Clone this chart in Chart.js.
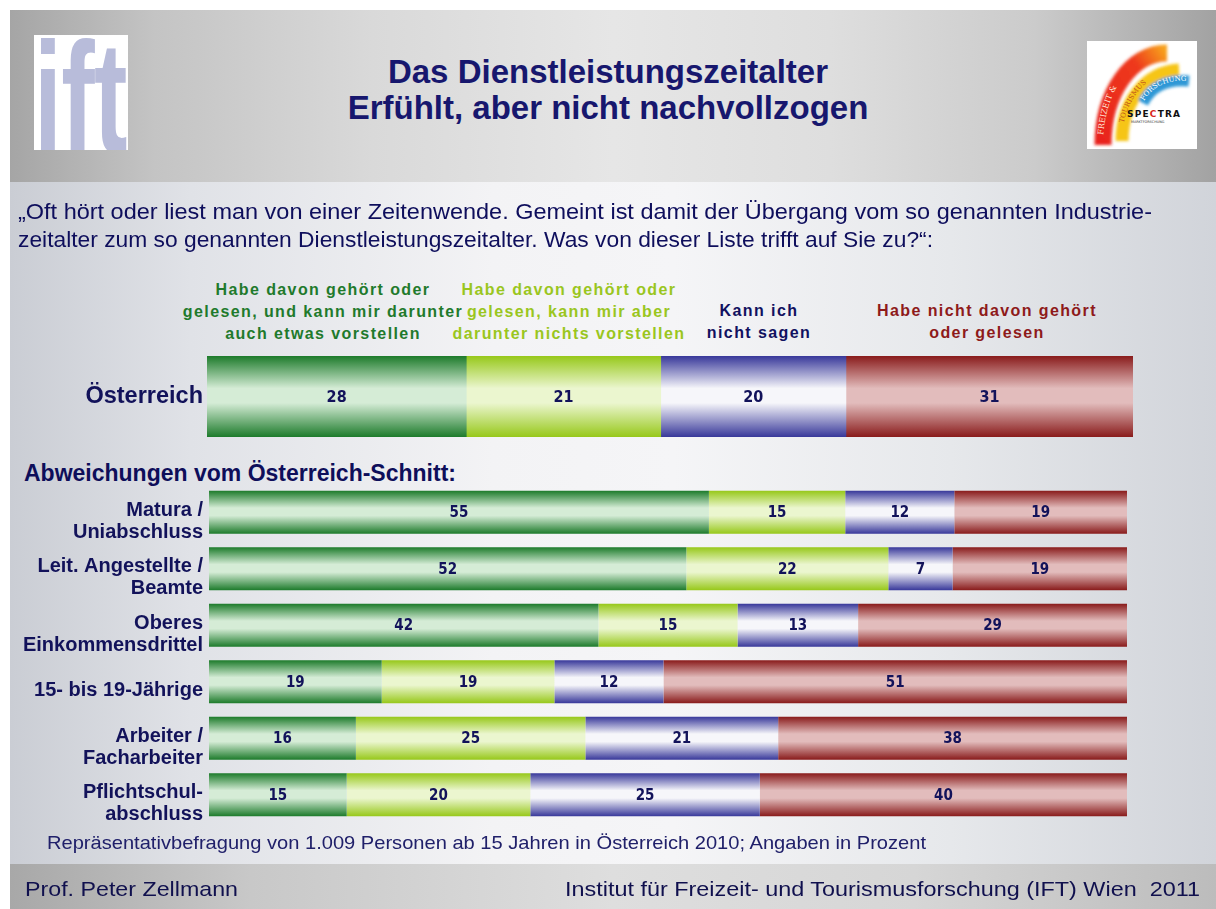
<!DOCTYPE html>
<html lang="de">
<head>
<meta charset="utf-8">
<title>Das Dienstleistungszeitalter</title>
<script src="https://cdn.jsdelivr.net/npm/chart.js@4.4.0/dist/chart.umd.min.js"></script>
<style>
  html, body { margin: 0; padding: 0; background: #ffffff; }
  body { width: 1216px; height: 909px; position: relative; overflow: hidden; font-family: "Liberation Sans", Arial, sans-serif; }
  .abs { position: absolute; }
  #hdr { left: 10px; top: 10px; width: 1206px; height: 172px;
    background: linear-gradient(to right, #a5a5a5 0%, #c4c4c4 12%, #d9d9d9 30%, #e6e6e6 50%, #dedede 68%, #cbcbcb 85%, #a2a2a2 100%); }
  #bdy { left: 10px; top: 182px; width: 1206px; height: 682px;
    background: linear-gradient(to right, #cacdd4 0%, #e0e2e7 15%, #f3f3f5 40%, #f5f5f7 55%, #e6e8eb 78%, #d1d4da 100%); }
  #ftr { left: 10px; top: 864px; width: 1206px; height: 45px;
    background: linear-gradient(to right, #a8a8a8 0%, #c8c8c8 20%, #dedede 50%, #d6d6d6 75%, #bcbcbc 100%); }
  .title { left: 0; width: 1216px; text-align: center; color: #17176e; font-weight: bold; font-size: 33px; line-height: 36px; }
  .hd { width: 400px; text-align: center; font-weight: bold; font-size: 16px; line-height: 22px; letter-spacing: 1.4px; white-space: nowrap; }
  .fit { white-space: nowrap; transform-origin: 0 50%; display: inline-block; }
  #ift { left: 34px; top: 35px; width: 94px; height: 115px; background: #ffffff; overflow: hidden; }
  #iftTxt { position: absolute; left: 0px; top: -37px; font-size: 157px; font-weight: bold; color: #b8bcda; line-height: 200px; transform: scaleX(0.64); transform-origin: 0 0; letter-spacing: -1px; }
</style>
</head>
<body>
<div id="hdr" class="abs"></div>
<div id="bdy" class="abs"></div>
<div id="ftr" class="abs"></div>

<div id="ift" class="abs"><div id="iftTxt">ift</div></div>

<svg class="abs" style="left:1087px;top:41px" width="110" height="108" viewBox="0 0 110 108">
  <rect width="110" height="108" fill="#ffffff"/>
  <defs>
    <filter id="bl" x="-20%" y="-20%" width="140%" height="140%"><feGaussianBlur stdDeviation="1.6"/></filter>
    <linearGradient id="rg" x1="0" y1="1" x2="1" y2="0">
      <stop offset="0" stop-color="#e8231a"/><stop offset="0.7" stop-color="#ee3a1c"/><stop offset="1" stop-color="#f7a21c"/>
    </linearGradient>
    <path id="pR" d="M 16 104 C 16 52, 44 12, 80 12"/>
    <path id="pY" d="M 35 100 C 35 62, 58 31, 92 29"/>
    <path id="pB" d="M 56 62 C 64 46, 80 38, 102 40"/>
  </defs>
  <g filter="url(#bl)" fill="none">
    <use href="#pR" stroke="url(#rg)" stroke-width="17"/>
    <use href="#pY" stroke="#f6c512" stroke-width="13"/>
    <use href="#pB" stroke="#2f98d6" stroke-width="11"/>
  </g>
  <text font-family="DejaVu Serif, serif" font-size="8" fill="#ffe6d8"><textPath href="#pR" startOffset="8%">FREIZEIT &amp;</textPath></text>
  <text font-family="DejaVu Serif, serif" font-size="7" fill="#c0561a"><textPath href="#pY" startOffset="18%">TOURISMUS</textPath></text>
  <text font-family="DejaVu Serif, serif" font-size="7" fill="#ffffff"><textPath href="#pB" startOffset="4%">FORSCHUNG</textPath></text>
  <text x="40" y="76" font-family="DejaVu Sans, sans-serif" font-weight="bold" font-size="9" letter-spacing="1.2" fill="#111111">SPE<tspan fill="#d8261c">C</tspan>TRA</text>
  <text x="44" y="82" font-family="DejaVu Sans, sans-serif" font-size="3.4" fill="#333333">MARKTFORSCHUNG</text>
</svg>

<div class="abs title" style="top:54px">Das Dienstleistungszeitalter</div>
<div class="abs title" style="top:90px">Erfühlt, aber nicht nachvollzogen</div>

<div class="abs" style="left:18px;top:198px;height:28px;line-height:28px"><span id="q1" class="fit" style="font-size:22px;color:#0e0e5c">„Oft hört oder liest man von einer Zeitenwende. Gemeint ist damit der Übergang vom so genannten Industrie-</span></div>
<div class="abs" style="left:18px;top:226px;height:28px;line-height:28px"><span id="q2" class="fit" style="font-size:22px;color:#0e0e5c">zeitalter zum so genannten Dienstleistungszeitalter. Was von dieser Liste trifft auf Sie zu?“:</span></div>

<div id="heads"></div>

<div class="abs" style="left:24px;top:459px;font-size:23px;font-weight:bold;color:#0e0e5a;white-space:nowrap;line-height:28px">Abweichungen vom Österreich-Schnitt:</div>

<canvas id="cTotal" class="abs" style="left:0;top:356px" width="1216" height="81"></canvas>
<canvas id="cGroups" class="abs" style="left:0;top:484px" width="1216" height="339"></canvas>

<div class="abs" style="left:47px;top:831px;height:24px;line-height:24px"><span id="fn" class="fit" style="font-size:19px;color:#20206a">Repräsentativbefragung von 1.009 Personen ab 15 Jahren in Österreich 2010; Angaben in Prozent</span></div>
<div class="abs" style="left:25px;top:876px;height:26px;line-height:26px"><span id="f1" class="fit" style="font-size:21px;color:#10104e">Prof. Peter Zellmann</span></div>
<div class="abs" style="left:565px;top:876px;height:26px;line-height:26px"><span id="f2" class="fit" style="font-size:21px;color:#10104e">Institut für Freizeit- und Tourismusforschung (IFT) Wien&nbsp; 2011</span></div>

<script>
// ---------- DATA ----------
const segmentNames = [
  'Habe davon gehört oder gelesen, und kann mir darunter auch etwas vorstellen',
  'Habe davon gehört oder gelesen, kann mir aber darunter nichts vorstellen',
  'Kann ich nicht sagen',
  'Habe nicht davon gehört oder gelesen'
];
const segmentHeaderLines = [
  ['Habe davon gehört oder', 'gelesen, und kann mir darunter', 'auch etwas vorstellen'],
  ['Habe davon gehört oder', 'gelesen, kann mir aber', 'darunter nichts vorstellen'],
  ['Kann ich', 'nicht sagen'],
  ['Habe nicht davon gehört', 'oder gelesen']
];
const totalLabels = ['Österreich'];
const totalValues = [28, 21, 20, 31];

const groupLabels = [
  ['Matura /', 'Uniabschluss'],
  ['Leit. Angestellte /', 'Beamte'],
  ['Oberes', 'Einkommensdrittel'],
  '15- bis 19-Jährige',
  ['Arbeiter /', 'Facharbeiter'],
  ['Pflichtschul-', 'abschluss']
];
const heardCanImagine    = [55, 52, 42, 19, 16, 15];
const heardCannotImagine = [15, 22, 15, 19, 25, 20];
const cannotSay          = [12,  7, 13, 12, 21, 25];
const notHeard           = [19, 19, 29, 51, 38, 40];

// ---------- STYLE ----------
const segStyle = [
  { edge: '#1d7b2b', mid: '#d5ecd6', head: '#1f7a2c', cx: 323, top: 279 },
  { edge: '#97c81a', mid: '#ebf6cf', head: '#9ac61e', cx: 569, top: 279 },
  { edge: '#38389a', mid: '#f6f6fa', head: '#111160', cx: 759, top: 300 },
  { edge: '#891b1b', mid: '#e2bcbc', head: '#8e1a1a', cx: 987, top: 300 }
];
const NAVY = '#12125a';

// headers (legend)
const heads = document.getElementById('heads');
segmentHeaderLines.forEach((lines, i) => {
  const d = document.createElement('div');
  d.className = 'abs hd';
  d.style.left = (segStyle[i].cx - 200) + 'px';
  d.style.top = segStyle[i].top + 'px';
  d.style.color = segStyle[i].head;
  d.innerHTML = lines.join('<br>');
  heads.appendChild(d);
});

function gradient(edge, mid) {
  return function (ctx) {
    const chart = ctx.chart;
    const ys = chart.scales && chart.scales.y;
    if (!ys || ctx.type !== 'data' || !isFinite(ys.top)) return edge;
    const n = chart.data.labels.length;
    const cat = (ys.bottom - ys.top) / n;
    const th = cat * (ctx.dataset.categoryPercentage || 1) * (ctx.dataset.barPercentage || 1);
    const yc = ys.getPixelForValue(ctx.dataIndex);
    const g = chart.ctx.createLinearGradient(0, yc - th / 2, 0, yc + th / 2);
    g.addColorStop(0, edge);
    g.addColorStop(0.4, mid);
    g.addColorStop(0.58, mid);
    g.addColorStop(1, edge);
    return g;
  };
}

const valueLabels = {
  id: 'valueLabels',
  afterDatasetsDraw(chart, args, opts) {
    const c = chart.ctx;
    c.save();
    c.font = opts.font;
    c.fillStyle = opts.color;
    c.textAlign = 'center';
    c.textBaseline = 'middle';
    chart.data.datasets.forEach((ds, di) => {
      const meta = chart.getDatasetMeta(di);
      meta.data.forEach((el, i) => {
        c.fillText(String(ds.raw[i]), (el.x + el.base) / 2, el.y + 1);
      });
    });
    c.restore();
  }
};

const labelFont = 'bold 15px "DejaVu Sans Condensed", "DejaVu Sans", sans-serif';

// ---------- Österreich chart ----------
new Chart(document.getElementById('cTotal'), {
  type: 'bar',
  data: {
    labels: totalLabels,
    datasets: segmentNames.map((name, i) => ({
      label: name,
      data: [totalValues[i]],
      raw: [totalValues[i]],
      backgroundColor: gradient(segStyle[i].edge, segStyle[i].mid),
      borderWidth: 0,
      barPercentage: 1,
      categoryPercentage: 1
    }))
  },
  options: {
    indexAxis: 'y',
    responsive: false,
    animation: false,
    devicePixelRatio: 1,
    layout: { padding: { left: 0, right: 83, top: 0, bottom: 0 } },
    plugins: {
      legend: { display: false },
      tooltip: { enabled: false },
      valueLabels: { font: 'bold 16px "DejaVu Sans Condensed", "DejaVu Sans", sans-serif', color: NAVY }
    },
    scales: {
      x: { stacked: true, display: false, min: 0, max: 100 },
      y: {
        stacked: true,
        grid: { display: false, drawTicks: false },
        border: { display: false },
        ticks: { color: NAVY, padding: 4, font: { family: '"Liberation Sans", Arial, sans-serif', size: 23.5, weight: 'bold' } },
        afterFit(s) { s.width = 207; s.paddingTop = 0; s.paddingBottom = 0; }
      }
    }
  },
  plugins: [valueLabels]
});

// ---------- Groups chart (100 % stacked) ----------
const groupSeries = [heardCanImagine, heardCannotImagine, cannotSay, notHeard];
const rowSums = groupLabels.map((_, r) => groupSeries.reduce((s, arr) => s + arr[r], 0));

new Chart(document.getElementById('cGroups'), {
  type: 'bar',
  data: {
    labels: groupLabels,
    datasets: segmentNames.map((name, i) => ({
      label: name,
      data: groupSeries[i].map((v, r) => v / rowSums[r] * 100),
      raw: groupSeries[i],
      backgroundColor: gradient(segStyle[i].edge, segStyle[i].mid),
      borderWidth: 0,
      barPercentage: 0.76,
      categoryPercentage: 1
    }))
  },
  options: {
    indexAxis: 'y',
    responsive: false,
    animation: false,
    devicePixelRatio: 1,
    layout: { padding: { left: 0, right: 89, top: 0, bottom: 0 } },
    plugins: {
      legend: { display: false },
      tooltip: { enabled: false },
      valueLabels: { font: labelFont, color: NAVY }
    },
    scales: {
      x: { stacked: true, display: false, min: 0, max: 100 },
      y: {
        stacked: true,
        grid: { display: false, drawTicks: false },
        border: { display: false },
        ticks: {
          color: NAVY, padding: 6, labelOffset: 9, autoSkip: false,
          font: { family: '"Liberation Sans", Arial, sans-serif', size: 20, weight: 'bold', lineHeight: 1.1 }
        },
        afterFit(s) { s.width = 209; s.paddingTop = 0; s.paddingBottom = 0; }
      }
    }
  },
  plugins: [valueLabels]
});

// fit text lines to the widths measured in the reference
function fit(id, w) {
  const el = document.getElementById(id);
  const sw = el.getBoundingClientRect().width;
  el.style.transform = 'scaleX(' + (w / sw) + ')';
}
fit('q1', 1134);
fit('q2', 915);
fit('fn', 879);
fit('f1', 213);
fit('f2', 635);
</script>
</body>
</html>
